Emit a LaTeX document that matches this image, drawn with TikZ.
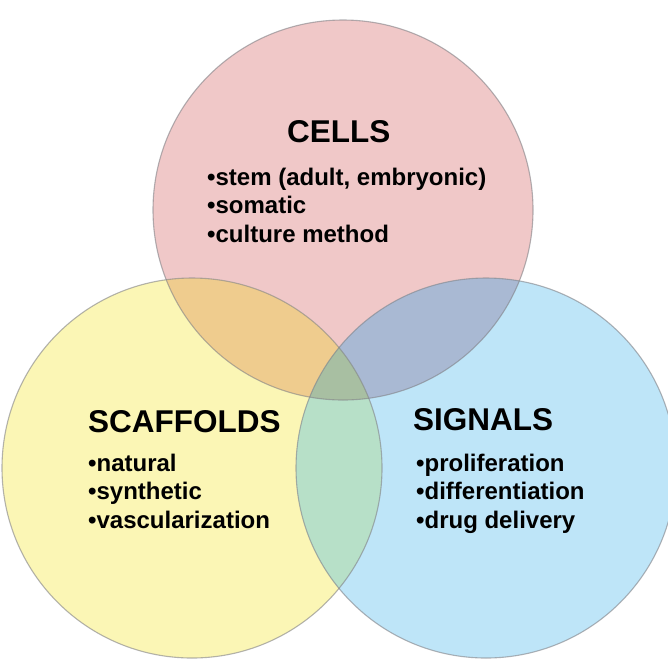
\documentclass[tikz,border=0pt]{standalone}
\usepackage{fontspec}
\setmainfont{Liberation Sans}
\definecolor{cP}{RGB}{240,200,200}
\definecolor{cY}{RGB}{251,246,181}
\definecolor{cB}{RGB}{190,229,248}
\definecolor{cPY}{RGB}{239,204,142}
\definecolor{cPB}{RGB}{169,185,211}
\definecolor{cYB}{RGB}{183,224,200}
\definecolor{cPYB}{RGB}{168,191,162}
\definecolor{rim}{RGB}{130,130,135}
\tikzset{
  title/.style={anchor=base west,inner sep=0pt,font=\fontsize{31.5}{32}\selectfont\bfseries},
  items/.style={anchor=base west,inner sep=0pt,align=left,font=\fontsize{24}{28.5}\selectfont\bfseries},
  rimline/.style={draw=rim,draw opacity=0.6,line width=1.1pt}
}
\begin{document}
\begin{tikzpicture}[x=1pt,y=-1pt]
\useasboundingbox (0,0) rectangle (668,665);
\fill[white] (0,0) rectangle (668,665);
\coordinate (cp) at (343,210);
\coordinate (cy) at (192,468);
\coordinate (cb) at (486,468);
% single circles
\fill[cP] (cp) circle[radius=190pt];
\fill[cY] (cy) circle[radius=190pt];
\fill[cB] (cb) circle[radius=190pt];
% pair overlaps
\begin{scope}
  \clip (cp) circle[radius=190pt];
  \fill[cPY] (cy) circle[radius=190pt];
  \fill[cPB] (cb) circle[radius=190pt];
\end{scope}
\begin{scope}
  \clip (cy) circle[radius=190pt];
  \fill[cYB] (cb) circle[radius=190pt];
\end{scope}
\begin{scope}
  \clip (cp) circle[radius=190pt];
  \clip (cy) circle[radius=190pt];
  \fill[cPYB] (cb) circle[radius=190pt];
\end{scope}
% rims
\draw[rimline] (cp) circle[radius=190pt];
\draw[rimline] (cy) circle[radius=190pt];
\draw[rimline] (cb) circle[radius=190pt];
% texts
\node[title] (tcells) at (287,142) {CELLS};
\node[items] (icells) at (207,242) {•stem (adult, embryonic)\\•somatic\\•culture method};
\node[title] (tscaf) at (88,432) {SCAFFOLDS};
\node[items] (iscaf) at (88,528) {•natural\\•synthetic\\•vascularization};
\node[title] (tsig) at (413,430) {SIGNALS};
\node[items] (isig) at (416,528) {•proliferation\\•differentiation\\•drug delivery};
\end{tikzpicture}
\end{document}
